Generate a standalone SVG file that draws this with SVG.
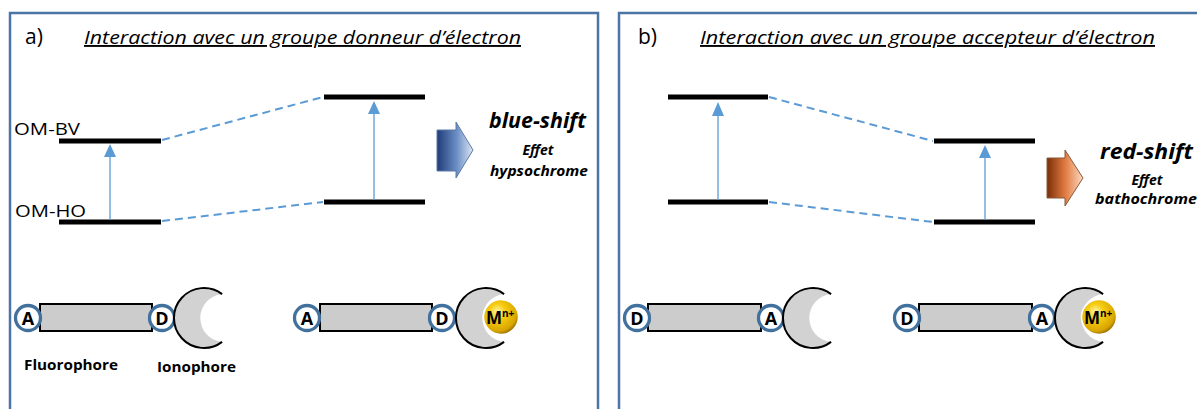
<svg xmlns="http://www.w3.org/2000/svg" xmlns:xlink="http://www.w3.org/1999/xlink" width="1197" height="409" viewBox="0 0 1197 409">
<style>
.panel{fill:#fff;stroke:#4A75A5;stroke-width:2.5}
.t{font-family:"Open Sans",Lato,"Liberation Sans",sans-serif;fill:#000}
.title{font-size:19px;font-style:italic;text-decoration:underline}
.lvl{stroke:#000;stroke-width:5}
.dash{stroke:#5B9BD5;stroke-width:2;stroke-dasharray:8 5;fill:none}
.tr{stroke:#5B9BD5;stroke-width:1.3;fill:none}
.head{fill:#5B9BD5}
.ring{fill:#fff;stroke:#41719C;stroke-width:3.3}
.rl{font-size:18px;font-weight:bold;text-anchor:middle}
.bar{fill:#CCCCCC;stroke:#000;stroke-width:2}
.shift{font-size:21px;font-weight:bold;font-style:italic}
.eff{font-size:14px;font-weight:bold;font-style:italic;text-anchor:middle}
.lab{font-size:15px;font-weight:bold}
.om{font-size:17px}
</style>
<defs>
<linearGradient id="gBlue" x1="0" y1="0" x2="1" y2="0">
<stop offset="0" stop-color="#1F3C78"/><stop offset="0.55" stop-color="#6C8EC6"/><stop offset="1" stop-color="#DCE6F4"/>
</linearGradient>
<linearGradient id="gRed" x1="0" y1="0" x2="1" y2="0">
<stop offset="0" stop-color="#7A2E08"/><stop offset="0.5" stop-color="#E07A40"/><stop offset="1" stop-color="#FCD9C2"/>
</linearGradient>
<radialGradient id="gBall" cx="0.4" cy="0.35" r="0.65">
<stop offset="0" stop-color="#FFF6B0"/><stop offset="0.35" stop-color="#F6CC10"/><stop offset="0.85" stop-color="#D9A500"/><stop offset="1" stop-color="#9C7400"/>
</radialGradient>
<path id="cres" d="M18.1,-23.9 A30,30 0 1 0 18.1,23.9 A24,24 0 0 1 18.1,-23.9 Z" fill="#D2D2D2"/>
<path id="cresEdge" d="M18.1,-23.9 A30,30 0 1 0 18.1,23.9" fill="none" stroke="#000" stroke-width="2"/>
</defs>

<rect width="1197" height="409" fill="#fff"/>

<g id="panel-a">
<rect class="panel" x="10" y="13" width="588" height="410"/>
<text class="t" x="25" y="44" font-size="21">a)</text>
<text class="t title" x="84" y="44" textLength="437" lengthAdjust="spacingAndGlyphs">Interaction avec un groupe donneur d’électron</text>
</g>
<g id="panel-b">
<rect class="panel" x="619" y="13" width="600" height="410"/>
<text class="t" x="638" y="44" font-size="21">b)</text>
<text class="t title" x="700" y="44" textLength="455" lengthAdjust="spacingAndGlyphs">Interaction avec un groupe accepteur d’électron</text>
</g>

<g id="levels-a">
<text class="t om" x="14" y="135" textLength="66" lengthAdjust="spacingAndGlyphs">OM-BV</text>
<text class="t om" x="15" y="217" textLength="71" lengthAdjust="spacingAndGlyphs">OM-HO</text>
<line class="lvl" x1="59" y1="141" x2="161" y2="141"/>
<line class="lvl" x1="59" y1="222" x2="161" y2="222"/>
<line class="lvl" x1="324" y1="97" x2="425" y2="97"/>
<line class="lvl" x1="324" y1="202" x2="425" y2="202"/>
</g>
<g id="levels-b">
<line class="lvl" x1="668" y1="97" x2="768" y2="97"/>
<line class="lvl" x1="668" y1="202" x2="768" y2="202"/>
<line class="lvl" x1="934" y1="141" x2="1035" y2="141"/>
<line class="lvl" x1="934" y1="222" x2="1035" y2="222"/>
</g>

<g id="connectors">
<line class="dash" x1="162" y1="140" x2="323" y2="97"/>
<line class="dash" x1="162" y1="221" x2="323" y2="202"/>
<line class="dash" x1="769" y1="97" x2="933" y2="141"/>
<line class="dash" x1="769" y1="202" x2="933" y2="222"/>
<line class="tr" x1="110" y1="220" x2="110" y2="155"/>
<polygon class="head" points="110,144 104,157 116,157"/>
<line class="tr" x1="374" y1="200" x2="374" y2="112"/>
<polygon class="head" points="374,101 368,114 380,114"/>
<line class="tr" x1="718" y1="200" x2="718" y2="114"/>
<polygon class="head" points="718,102 712,116 724,116"/>
<line class="tr" x1="985" y1="220" x2="985" y2="157"/>
<polygon class="head" points="985,145 979,158 991,158"/>
</g>

<g id="blue-shift">
<polygon points="437,130 456,130 456,122 473,150 456,178 456,171 437,171" fill="url(#gBlue)" stroke="#5A7AA8" stroke-width="1"/>
<text class="t shift" x="489" y="128" textLength="97" lengthAdjust="spacingAndGlyphs">blue-shift</text>
<text class="t eff" x="538" y="155">Effet</text>
<text class="t eff" x="539" y="176" textLength="98" lengthAdjust="spacingAndGlyphs">hypsochrome</text>
</g>
<g id="red-shift">
<polygon points="1047,158 1065,158 1065,150 1083,178 1065,206 1065,198 1047,198" fill="url(#gRed)" stroke="#8A5A3A" stroke-width="1"/>
<text class="t shift" x="1100" y="159" textLength="93" lengthAdjust="spacingAndGlyphs">red-shift</text>
<text class="t eff" x="1147" y="185">Effet</text>
<text class="t eff" x="1146" y="204" textLength="102" lengthAdjust="spacingAndGlyphs">bathochrome</text>
</g>

<g id="mol-a1">
<rect class="bar" x="40" y="304" width="112" height="27"/>
<circle class="ring" cx="28" cy="318" r="12.5"/>
<text class="t rl" x="28" y="324.5">A</text>
<circle class="ring" cx="162" cy="318" r="12.5"/>
<text class="t rl" x="162" y="324.5">D</text>
<use xlink:href="#cres" x="204" y="318"/>
<use xlink:href="#cresEdge" x="204" y="318"/>
<text class="t lab" x="24" y="370" textLength="94" lengthAdjust="spacingAndGlyphs">Fluorophore</text>
<text class="t lab" x="157" y="372" textLength="79" lengthAdjust="spacingAndGlyphs">Ionophore</text>
</g>

<g id="mol-a2">
<rect class="bar" x="320" y="304" width="112" height="27"/>
<circle class="ring" cx="307" cy="318" r="12.5"/>
<text class="t rl" x="307" y="324.5">A</text>
<circle class="ring" cx="442" cy="318" r="12.5"/>
<text class="t rl" x="442" y="324.5">D</text>
<use xlink:href="#cres" x="486" y="318"/>
<use xlink:href="#cresEdge" x="486" y="318"/>
<circle cx="501" cy="317" r="17.5" fill="url(#gBall)" stroke="#fff" stroke-width="1.5"/>
<text class="t" x="486" y="324" font-size="17" font-weight="bold">M<tspan font-size="10" dy="-7">n+</tspan></text>
</g>

<g id="mol-b1">
<rect class="bar" x="648" y="304" width="113" height="27"/>
<circle class="ring" cx="637" cy="318" r="12.5"/>
<text class="t rl" x="637" y="324.5">D</text>
<circle class="ring" cx="771" cy="318" r="12.5"/>
<text class="t rl" x="771" y="324.5">A</text>
<use xlink:href="#cres" x="813" y="318"/>
<use xlink:href="#cresEdge" x="813" y="318"/>
</g>

<g id="mol-b2">
<rect class="bar" x="919" y="304" width="113" height="27"/>
<circle class="ring" cx="907" cy="318" r="12.5"/>
<text class="t rl" x="907" y="324.5">D</text>
<circle class="ring" cx="1042" cy="318" r="12.5"/>
<text class="t rl" x="1042" y="324.5">A</text>
<use xlink:href="#cres" x="1085" y="318"/>
<use xlink:href="#cresEdge" x="1085" y="318"/>
<circle cx="1099" cy="317" r="17.5" fill="url(#gBall)" stroke="#fff" stroke-width="1.5"/>
<text class="t" x="1084" y="324" font-size="17" font-weight="bold">M<tspan font-size="10" dy="-7">n+</tspan></text>
</g>
</svg>
